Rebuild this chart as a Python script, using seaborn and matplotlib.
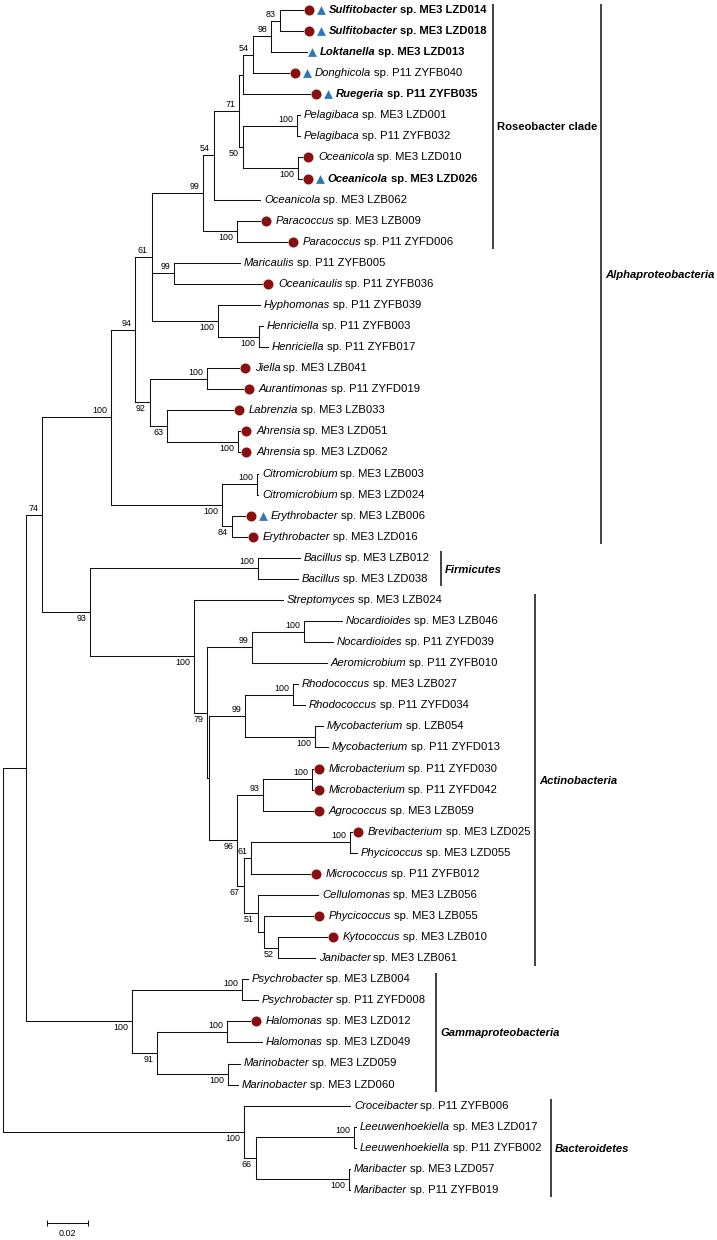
import matplotlib
matplotlib.use("Agg")
import matplotlib.pyplot as plt
import numpy as np
import pandas as pd
import seaborn as sns

# ---- leaves, top to bottom ----
genus = ["Sulfitobacter", "Sulfitobacter", "Loktanella", "Donghicola", "Ruegeria",
         "Pelagibaca", "Pelagibaca", "Oceanicola", "Oceanicola", "Oceanicola",
         "Paracoccus", "Paracoccus", "Maricaulis", "Oceanicaulis", "Hyphomonas",
         "Henriciella", "Henriciella", "Jiella", "Aurantimonas", "Labrenzia",
         "Ahrensia", "Ahrensia", "Citromicrobium", "Citromicrobium", "Erythrobacter",
         "Erythrobacter", "Bacillus", "Bacillus", "Streptomyces", "Nocardioides",
         "Nocardioides", "Aeromicrobium", "Rhodococcus", "Rhodococcus", "Mycobacterium",
         "Mycobacterium", "Microbacterium", "Microbacterium", "Agrococcus", "Brevibacterium",
         "Phycicoccus", "Micrococcus", "Cellulomonas", "Phycicoccus", "Kytococcus",
         "Janibacter", "Psychrobacter", "Psychrobacter", "Halomonas", "Halomonas",
         "Marinobacter", "Marinobacter", "Croceibacter", "Leeuwenhoekiella", "Leeuwenhoekiella",
         "Maribacter", "Maribacter"]
strain = ["ME3 LZD014", "ME3 LZD018", "ME3 LZD013", "P11 ZYFB040", "P11 ZYFB035",
          "ME3 LZD001", "P11 ZYFB032", "ME3 LZD010", "ME3 LZD026", "ME3 LZB062",
          "ME3 LZB009", "P11 ZYFD006", "P11 ZYFB005", "P11 ZYFB036", "P11 ZYFB039",
          "P11 ZYFB003", "P11 ZYFB017", "ME3 LZB041", "P11 ZYFD019", "ME3 LZB033",
          "ME3 LZD051", "ME3 LZD062", "ME3 LZB003", "ME3 LZD024", "ME3 LZB006",
          "ME3 LZD016", "ME3 LZB012", "ME3 LZD038", "ME3 LZB024", "ME3 LZB046",
          "P11 ZYFD039", "P11 ZYFB010", "ME3 LZB027", "P11 ZYFD034", "LZB054",
          "P11 ZYFD013", "P11 ZYFD030", "P11 ZYFD042", "ME3 LZB059", "ME3 LZD025",
          "ME3 LZD055", "P11 ZYFB012", "ME3 LZB056", "ME3 LZB055", "ME3 LZB010",
          "ME3 LZB061", "ME3 LZB004", "P11 ZYFD008", "ME3 LZD012", "ME3 LZD049",
          "ME3 LZD059", "ME3 LZD060", "P11 ZYFB006", "ME3 LZD017", "P11 ZYFB002",
          "ME3 LZD057", "P11 ZYFB019"]
# distance of each leaf tip from the root (substitutions per site)
leaf_depth = [0.1474, 0.1474, 0.1494, 0.1405, 0.1509, 0.1459, 0.1459, 0.1469, 0.1469, 0.1263,
              0.1263, 0.1396, 0.1165, 0.1273, 0.1263, 0.1278, 0.1302, 0.1160, 0.1179, 0.1130,
              0.1165, 0.1165, 0.1253, 0.1253, 0.1189, 0.1199, 0.1459, 0.1450, 0.1376, 0.1666,
              0.1622, 0.1592, 0.1450, 0.1484, 0.1572, 0.1597, 0.1523, 0.1523, 0.1523, 0.1715,
              0.1740, 0.1509, 0.1548, 0.1523, 0.1592, 0.1533, 0.1204, 0.1253, 0.1214, 0.1273,
              0.1165, 0.1155, 0.1705, 0.1735, 0.1735, 0.1705, 0.1705]
# c = red circle, t = blue triangle
leaf_marks = ["ct", "ct", "t", "ct", "ct", "", "", "c", "ct", "",
              "c", "c", "", "c", "", "", "", "c", "c", "c",
              "c", "c", "", "", "ct", "c", "", "", "", "",
              "", "", "", "", "", "", "c", "c", "c", "c",
              "", "c", "", "c", "c", "", "", "", "c", "",
              "", "", "", "", "", "", ""]
bold_leaves = [0, 1, 2, 4, 8]

# ---- internal nodes: children (int = leaf index), depth, bootstrap ----
node_names = ["n83", "n98", "n54a", "nA", "nPel", "nOce", "n50", "n71", "n54c", "nPara",
              "n99d", "nMar", "nHen", "nHyp", "n61", "nJie", "nAhr", "n63", "n92", "n94",
              "nCit", "nEry", "nCE", "nAlpha", "nBac", "nNoc", "n99a", "nRho", "nMyc", "n99b",
              "nMic", "n93m", "nBre", "n61s", "n52", "nU", "n51", "n67", "n96", "nP",
              "n79", "nAct", "n93", "n74", "nPsy", "nHal", "nMrb", "n91", "nGam", "nN",
              "nLee", "nMrc", "n66", "nBct", "root"]
node_children = [(0, 1), ("n83", 2), ("n98", 3), ("n54a", 4), (5, 6), (7, 8), ("nPel", "nOce"),
                 ("nA", "n50"), ("n71", 9), (10, 11), ("n54c", "nPara"), (12, 13), (15, 16),
                 (14, "nHen"), ("n99d", "nMar", "nHyp"), (17, 18), (20, 21), (19, "nAhr"),
                 ("nJie", "n63"), ("n61", "n92"), (22, 23), (24, 25), ("nCit", "nEry"),
                 ("n94", "nCE"), (26, 27), (29, 30), ("nNoc", 31), (32, 33), (34, 35),
                 ("nRho", "nMyc"), (36, 37), ("nMic", 38), (39, 40), ("nBre", 41), (44, 45),
                 (43, "n52"), (42, "nU"), ("n61s", "n51"), ("n93m", "n67"), ("n99b", "n96"),
                 ("n99a", "nP"), (28, "n79"), ("nBac", "nAct"), ("nAlpha", "n93"), (46, 47),
                 (48, 49), (50, 51), ("nHal", "nMrb"), ("nPsy", "n91"), ("n74", "nGam"),
                 (53, 54), (55, 56), ("nLee", "nMrc"), (52, "n66"), ("nN", "nBct")]
node_depth = [0.1361, 0.1317, 0.1229, 0.1179, 0.1445, 0.1450, 0.1179, 0.1160, 0.1037, 0.1150,
              0.0983, 0.0840, 0.1258, 0.1057, 0.0732, 0.1002, 0.1155, 0.0806, 0.0722, 0.0649,
              0.1248, 0.1125, 0.1076, 0.0531, 0.1253, 0.1479, 0.1224, 0.1425, 0.1533, 0.1189,
              0.1518, 0.1278, 0.1705, 0.1219, 0.1351, 0.1283, 0.1253, 0.1184, 0.1150, 0.1012,
              0.1002, 0.0939, 0.0428, 0.0192, 0.1174, 0.1101, 0.1106, 0.0757, 0.0634, 0.0113,
              0.1725, 0.1700, 0.1243, 0.1184, 0.0]
node_support = [83, 98, 54, None, 100, 100, 50, 71, 54, 100,
                99, 99, 100, 100, 61, 100, 100, 63, 92, 94,
                100, 84, 100, 100, 100, 100, 99, 100, 100, 99,
                100, 93, 100, 61, 52, None, 51, 67, 96, None,
                79, 100, 93, 74, 100, 100, 100, 91, 100, None,
                100, 100, 66, 100, None]

# ---- clade brackets ----
clade_names = ["Roseobacter clade", "Alphaproteobacteria", "Firmicutes",
               "Actinobacteria", "Gammaproteobacteria", "Bacteroidetes"]
clade_first = [0, 0, 26, 28, 46, 52]
clade_last = [11, 25, 27, 45, 51, 56]
clade_italic = [False, True, True, True, True, True]
clade_bar_px = [493, 601, 441, 535, 436, 551]

sns.set_style("white")
plt.rcParams["font.family"] = ["Liberation Sans", "DejaVu Sans"]
plt.rcParams["text.color"] = "black"

W, H = 717, 1240
PX = 1 / 2035.0          # tree units per pixel (0.02 = ~41 px)
ROW = 21.07              # pixels per leaf row
fig = plt.figure(figsize=(W / 100, H / 100), dpi=100)
ax = fig.add_axes([0, 0, 1, 1])
ax.set_xlim(-3 * PX, (W - 3) * PX)
ax.set_ylim((H - 10) / ROW, -10 / ROW)
ax.axis("off")

# --- layout of the tree ---
nodes = {n: (c, d, s) for n, c, d, s in zip(node_names, node_children, node_depth, node_support)}
depth = {i: d for i, d in enumerate(leaf_depth)}
ypos = {i: float(i) for i in range(len(genus))}
is_last = {}


def place(n):
    if n in ypos:
        return ypos[n]
    ch, d, _ = nodes[n]
    ys = [place(c) for c in ch]
    for k, c in enumerate(ch):
        is_last[c] = (k == len(ch) - 1)
    ypos[n] = (ys[0] + ys[-1]) / 2
    depth[n] = d
    return ypos[n]


place("root")

lc = "#111111"
lw = 0.75
hx0, hx1, hy, vx, vy0, vy1 = [], [], [], [], [], []
for n, (ch, d, s) in nodes.items():
    vx.append(d)
    vy0.append(ypos[ch[0]])
    vy1.append(ypos[ch[-1]])
    for c in ch:
        hy.append(ypos[c])
        hx0.append(d)
        hx1.append(depth[c])
hl = ax.hlines(hy, hx0, hx1, color=lc, lw=lw)
vl = ax.vlines(vx, vy0, vy1, color=lc, lw=lw)
hl.set_capstyle("projecting")
vl.set_capstyle("projecting")

# bootstrap values
for n, (ch, d, s) in nodes.items():
    if s is None:
        continue
    below = is_last.get(n, False)
    ax.annotate(str(s), xy=(d, ypos[n]), xytext=(-4, -2 if below else 2),
                textcoords="offset pixels", ha="right",
                va="top" if below else "bottom", fontsize=6.4, color="black")

# markers and leaf labels
mk_rows = []
for i in range(len(genus)):
    x = leaf_depth[i] + 6 * PX
    if "c" in leaf_marks[i]:
        mk_rows.append(dict(x=x, y=i, kind="circle"))
        x += 12 * PX if "t" in leaf_marks[i] else 10 * PX
    else:
        x -= 1 * PX
    if "t" in leaf_marks[i]:
        mk_rows.append(dict(x=x, y=i, kind="triangle"))
        x += 8 * PX
    if leaf_marks[i] == "":
        x = leaf_depth[i] + 4 * PX
    weight = "bold" if i in bold_leaves else "normal"
    t = ax.text(x, i, genus[i], fontsize=8.1, fontstyle="italic", fontweight=weight,
                ha="left", va="center", color="black")
    ax.annotate("sp. " + strain[i], xy=(1, 0), xycoords=t, xytext=(2.6, 0),
                textcoords="offset pixels", fontsize=8.1,
                fontweight=weight, ha="left", va="bottom", color="black")

mk = pd.DataFrame(mk_rows)
sns.scatterplot(data=mk[mk.kind == "circle"], x="x", y="y", color="#8a0f0f",
                marker="o", s=52, linewidth=0, ax=ax, legend=False)
sns.scatterplot(data=mk[mk.kind == "triangle"], x="x", y="y", color="#2d78bd",
                marker="^", s=40, linewidth=0, ax=ax, legend=False)

# clade brackets
for name, a, b, it, bx in zip(clade_names, clade_first, clade_last, clade_italic, clade_bar_px):
    x = (bx - 3) * PX
    y0, y1 = a - 0.3, b + 0.35
    ax.plot([x, x], [y0, y1], color="#333333", lw=1.3, solid_capstyle="butt")
    ax.text(x + 4 * PX, (y0 + y1) / 2 + 0.05, name, fontsize=8.1, fontweight="bold",
            fontstyle="italic" if it else "normal", ha="left", va="center", color="black")

# scale bar
sb_x0 = (47 - 3) * PX
sb_y = (1223 - 10) / ROW
ax.plot([sb_x0, sb_x0 + 0.02], [sb_y, sb_y], color=lc, lw=lw)
ax.vlines([sb_x0, sb_x0 + 0.02], sb_y - 0.16, sb_y + 0.16, color=lc, lw=lw)
ax.text(sb_x0 + 0.01, sb_y + 0.3, "0.02", fontsize=6.4, ha="center", va="top", color="black")

fig.savefig("out.png", dpi=100)
